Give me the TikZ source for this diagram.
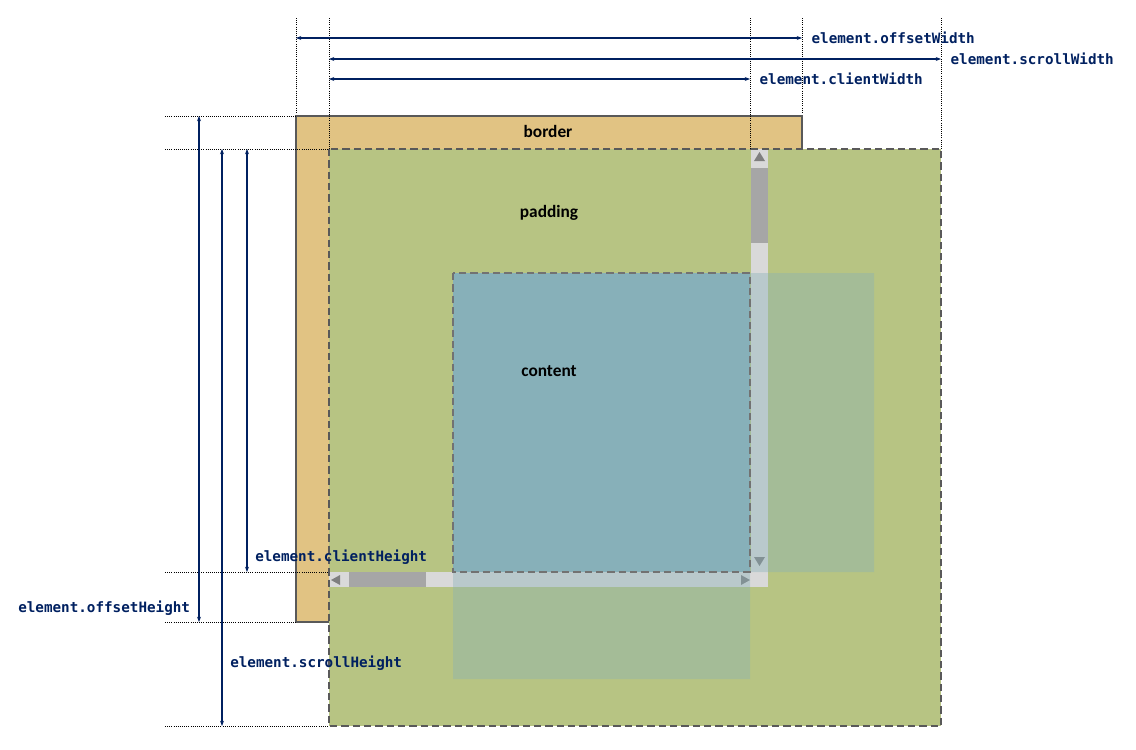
\documentclass[tikz,border=0pt]{standalone}
\usepackage{fontspec}
\setmainfont{Carlito}
\newfontfamily\codefont{DejaVu Sans Mono}
\usepackage{tikz}
\usetikzlibrary{
    positioning,
    arrows.meta,
    calc
}
\definecolor{boxTan}{RGB}{225, 195, 131}
\definecolor{boxGreen}{RGB}{183, 196, 131}
\definecolor{boxBlue}{RGB}{135, 176, 185}
\definecolor{edgeGray}{RGB}{89, 89, 89}
\definecolor{trackGray}{RGB}{217, 217, 217}
\definecolor{thumbGray}{RGB}{166, 166, 166}
\definecolor{tipGray}{RGB}{127, 127, 127}
\definecolor{printNavy}{RGB}{0, 32, 96}

\tikzset{
    guide/.style={densely dotted, line width=0.6pt, black},
    measure/.style={<->, line width=0.9pt, printNavy},
    prop/.style={font=\codefont\bfseries\fontsize{10.7}{12}\selectfont, text=printNavy, inner sep=0pt},
    area/.style={font=\bfseries\fontsize{13}{15}\selectfont, inner sep=0pt, anchor=base},
    boxedge/.style={draw=edgeGray, line width=1.5pt},
    dashedge/.style={draw=edgeGray, line width=1.5pt, dash pattern=on 5.5pt off 3pt}
}

\begin{document}
\begin{tikzpicture}[x=0.75pt, y=-0.75pt, >={Stealth[length=4pt, width=3pt]}]
    \useasboundingbox (0,0) rectangle (1136,750);

    % box corners
    \coordinate (borderTL) at (296,116);
    \coordinate (borderBR) at (802,622);
    \coordinate (padTL) at (329,149);
    \coordinate (padBR) at (941,726);
    \coordinate (clientBR) at (750,572);
    \coordinate (contentTL) at (453,273);
    \coordinate (contentBR) at (874,679);

    % border box and padding
    \draw[boxedge, fill=boxTan] (borderTL) rectangle (borderBR);
    \fill[boxGreen] (padTL) rectangle (padBR);

    % scrollbars
    \fill[trackGray] (751,149) rectangle (768,587);
    \fill[thumbGray] (751,168) rectangle (768,243);
    \fill[trackGray] (329,572) rectangle (768,587);
    \fill[thumbGray] (349,572) rectangle (426,587);
    \fill[tipGray] (754,161) -- (765,161) -- (759.5,152) -- cycle;
    \fill[tipGray] (754,557) -- (765,557) -- (759.5,566) -- cycle;
    \fill[tipGray] (340,575) -- (340,585) -- (331,580) -- cycle;
    \fill[tipGray] (741,575) -- (741,585) -- (750,580) -- cycle;

    % content, overflowing right and below
    \fill[boxBlue, opacity=0.38] (contentTL) -| (contentBR |- clientBR) -- (clientBR)
        -- (clientBR |- contentBR) -| (contentTL) -- cycle;
    \fill[boxBlue] (contentTL) rectangle (clientBR);
    \draw[dashedge, draw=edgeGray!85] (contentTL) rectangle (clientBR);
    \draw[dashedge] (padTL) rectangle (padBR);

    \node[area] (border) at (548,137) {border};
    \node[area] (padding) at (549,217) {padding};
    \node[area] (content) at (549,376) {content};

    % guides
    \foreach \x/\y in {296/113, 329/149, 750/149, 802/113, 941/149}
        \draw[guide] (\x,18) -- (\x,\y);
    \foreach \y/\x in {116/296, 149/329, 572/329, 622/296, 726/329}
        \draw[guide] (165,\y) -- (\x,\y);

    % widths
    \coordinate (owA) at (296,38);
    \coordinate (owB) at (802,38);
    \coordinate (swA) at (329,59);
    \coordinate (swB) at (941,59);
    \coordinate (cwA) at (329,79);
    \coordinate (cwB) at (750,79);
    \draw[measure] (owA) -- (owB) node[prop, right=6.75pt] (offW) {element.offsetWidth};
    \draw[measure] (swA) -- (swB) node[prop, right=6.75pt] (scrollW) {element.scrollWidth};
    \draw[measure] (cwA) -- (cwB) node[prop, right=6.75pt] (clientW) {element.clientWidth};

    % heights
    \coordinate (ohA) at (199,116);
    \coordinate (ohB) at (199,622);
    \coordinate (shA) at (222,149);
    \coordinate (shB) at (222,726);
    \coordinate (chA) at (247,149);
    \coordinate (chB) at (247,572);
    \draw[measure] (ohA) -- (ohB);
    \draw[measure] (shA) -- (shB);
    \draw[measure] (chA) -- (chB);
    \node[prop, anchor=west] (offH) at (18,608) {element.offsetHeight};
    \node[prop, anchor=west] (scrollH) at (230,663) {element.scrollHeight};
    \node[prop, anchor=west] (clientH) at (255,557) {element.clientHeight};
\end{tikzpicture}
\end{document}
